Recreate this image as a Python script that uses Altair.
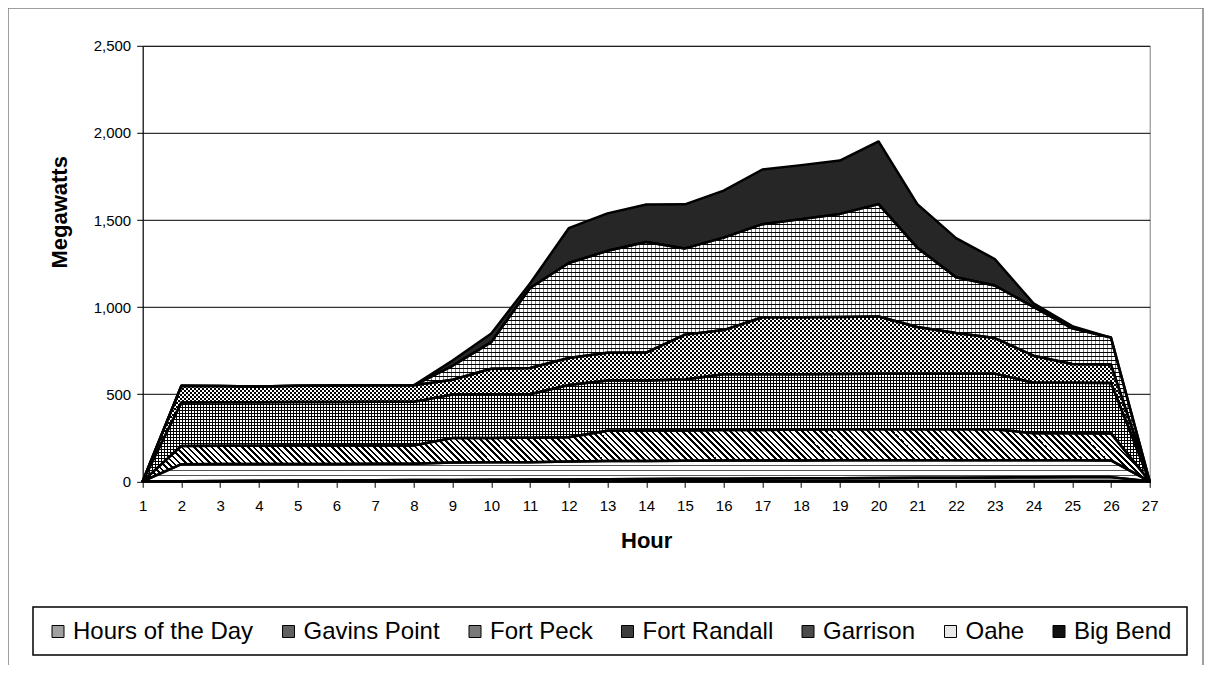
import altair as alt
import pandas as pd

hours = [1, 2, 3, 4, 5, 6, 7, 8, 9, 10, 11, 12, 13, 14, 15, 16, 17, 18, 19, 20, 21, 22, 23, 24, 25, 26, 27]
y_ticks = [0, 500, 1000, 1500, 2000, 2500]

series_names = ["Hours of the Day", "Gavins Point", "Fort Peck", "Fort Randall", "Garrison", "Oahe", "Big Bend"]

hours_of_day = [0, 1, 2, 3, 4, 5, 6, 7, 8, 9, 10, 11, 12, 13, 14, 15, 16, 17, 18, 19, 20, 21, 22, 23, 24, 24, 0]
gavins_point = [0, 97, 97, 96, 96, 95, 95, 94, 100, 100, 100, 102, 104, 104, 104, 104, 104, 103, 103, 102, 101, 100, 99, 98, 97, 96, 0]
fort_peck = [0, 105, 105, 105, 105, 105, 105, 105, 140, 140, 140, 140, 174, 174, 174, 175, 175, 177, 178, 178, 178, 178, 178, 155, 155, 155, 0]
fort_randall = [0, 250, 250, 250, 250, 250, 250, 250, 250, 250, 250, 300, 288, 288, 293, 320, 320, 318, 317, 319, 319, 319, 319, 290, 290, 290, 0]
garrison = [0, 95, 93, 90, 93, 95, 95, 95, 85, 147, 150, 155, 160, 160, 257, 254, 327, 327, 327, 328, 268, 233, 204, 155, 107, 105, 0]
oahe = [0, 0, 0, 0, 0, 0, 0, 0, 80, 153, 460, 545, 585, 635, 495, 531, 534, 563, 592, 645, 455, 320, 302, 280, 205, 155, 0]
big_bend = [0, 0, 0, 0, 0, 0, 0, 0, 30, 50, 25, 200, 215, 215, 253, 270, 314, 310, 306, 360, 250, 225, 152, 20, 13, 0, 0]

# legend swatch tones (approximating the hatch icons)
legend_fills = ["#a0a0a0", "#606060", "#7a7a7a", "#3c3c3c", "#4a4a4a", "#e8e8e8", "#111111"]
solid_fills = {"Hours of the Day": "#9a9a9a", "Big Bend": "#262626"}

all_values = [hours_of_day, gavins_point, fort_peck, fort_randall, garrison, oahe, big_bend]
rows = []
for i, (name, vals) in enumerate(zip(series_names, all_values)):
    for h, v in zip(hours, vals):
        rows.append({"hour": h, "series": name, "idx": i, "mw": v})
df = pd.DataFrame(rows)

FONT = "Liberation Sans"
W, H = 1007, 435.5
PL, PT = 134.7, 37.8
PR = 1196 - PL - W
PB = 657 - PT - H
PX_PER_MW = H / 2500.0

# pixel height of each series' bounding box (used only to size the hatch spacing)
bbox_h = {}
running = [0] * len(hours)
for name, vals in zip(series_names, all_values):
    running = [a + b for a, b in zip(running, vals)]
    bbox_h[name] = max(running) * PX_PER_MW

CLEAR = "rgba(0,0,0,0)"


def hatch(span, period, width, color, x1, y1, x2, y2):
    stops = []
    k = 0
    while True:
        s = k * period / span
        if s >= 1:
            break
        e = min((k * period + width) / span, 1.0)
        stops += [(s, CLEAR), (s, color), (e, color), (e, CLEAR)]
        k += 1
    return alt.LinearGradient(
        gradient="linear",
        stops=[alt.GradientStop(offset=round(o, 6), color=c) for o, c in stops],
        x1=x1, y1=y1, x2=x2, y2=y2,
    )


def vertical(name, period, width, color):
    return hatch(W, period, width, color, 0, 0, 1, 0)


def horizontal(name, period, width, color):
    return hatch(bbox_h[name], period, width, color, 0, 0, 0, 1)


def back_diag(name, period, width, color):
    # stripes running top-left to bottom-right
    h = bbox_h[name]
    a = (W + h) / (W * W + h * h)
    return hatch(W + h, period, width, color, 0, 1, a * W, 1 - a * h)


def fwd_diag(name, period, width, color):
    # stripes running bottom-left to top-right
    h = bbox_h[name]
    a = (W + h) / (W * W + h * h)
    return hatch(W + h, period, width, color, 0, 0, a * W, a * h)


hatches = [
    ("Gavins Point", horizontal("Gavins Point", 5, 1, "#555555")),
    ("Fort Peck", back_diag("Fort Peck", 6, 2.6, "#000000")),
    ("Fort Randall", vertical("Fort Randall", 3, 1, "#000000")),
    ("Fort Randall", horizontal("Fort Randall", 3, 1, "#000000")),
    ("Garrison", back_diag("Garrison", 4, 1.3, "#000000")),
    ("Garrison", fwd_diag("Garrison", 4, 1.3, "#000000")),
    ("Oahe", vertical("Oahe", 4, 1, "#7a7a7a")),
    ("Oahe", horizontal("Oahe", 4, 1, "#000000")),
]

x_enc = alt.X("hour:Q",
              scale=alt.Scale(domain=[1, 27], nice=False, zero=False),
              axis=alt.Axis(values=hours, title="Hour", labelFontSize=15, titleFontSize=22,
                            titleFontWeight="bold", tickSize=6, labelPadding=11, titlePadding=17,
                            grid=False, labelFlush=False))
y_enc = alt.Y("y1:Q",
              scale=alt.Scale(domain=[0, 2500], nice=False),
              axis=alt.Axis(values=y_ticks, format=",.0f", title="Megawatts", labelFontSize=15,
                            titleFontSize=22, titleFontWeight="bold", tickSize=6, labelPadding=6,
                            titlePadding=22, titleY=166, grid=True))

stacked = alt.Chart(df).transform_stack(
    stack="mw", as_=["y0", "y1"], groupby=["hour"], sort=[alt.SortField("idx", order="ascending")]
)

base_layer = stacked.mark_area(interpolate="linear", fill="white", strokeWidth=0).encode(
    x=x_enc, y=y_enc, y2="y0:Q", detail="series:N"
)

solid_layers = []
for name, col in solid_fills.items():
    solid_layers.append(
        stacked.transform_filter(alt.datum.series == name).mark_area(
            interpolate="linear", fill=col, strokeWidth=0
        ).encode(x=x_enc, y=y_enc, y2="y0:Q")
    )

hatch_layers = []
for name, grad in hatches:
    hatch_layers.append(
        stacked.transform_filter(alt.datum.series == name).mark_area(
            interpolate="linear", fill=grad, strokeWidth=0
        ).encode(x=x_enc, y=y_enc, y2="y0:Q")
    )

outline_layer = stacked.mark_area(
    interpolate="linear", fill="white", fillOpacity=0, stroke="black", strokeWidth=2.5, strokeJoin="round"
).encode(x=x_enc, y=y_enc, y2="y0:Q", detail="series:N")

legend_layer = stacked.mark_square(size=0, filled=True, strokeWidth=0, opacity=1).encode(
    x=x_enc, y=y_enc,
    color=alt.Color("series:N",
                    scale=alt.Scale(domain=series_names, range=legend_fills),
                    legend=alt.Legend(title=None, orient="none", direction="horizontal", columns=7,
                                      legendX=-96.7, legendY=573.7, padding=0, labelLimit=600,
                                      symbolType="square", symbolSize=144, symbolStrokeColor="black",
                                      symbolStrokeWidth=1, symbolOpacity=1, labelFont=FONT,
                                      labelFontSize=24, labelColor="black", labelOffset=3,
                                      columnPadding=22.5)),
)

box_df = pd.DataFrame({"k": [0]})
legend_box = alt.Chart(box_df).mark_rect(fill=None, stroke="black", strokeWidth=1.5).encode(
    x=alt.value(-109.7), x2=alt.value(1044.3), y=alt.value(561.2), y2=alt.value(609.2)
)
outer_frame = alt.Chart(box_df).mark_rect(fill=None, stroke="#808080", strokeWidth=1.5).encode(
    x=alt.value(-134.7), x2=alt.value(1060.3), y=alt.value(-37.8), y2=alt.value(640)
)

chart = alt.layer(base_layer, *solid_layers, *hatch_layers, outline_layer, legend_layer,
                  legend_box, outer_frame).properties(
    width=W, height=H,
    autosize=alt.AutoSizeParams(type="none"),
    padding={"left": PL, "top": PT, "right": PR, "bottom": PB},
    background="white",
).configure_view(stroke="#808080", strokeWidth=1).configure_axis(
    labelFont=FONT, titleFont=FONT, domainColor="black", tickColor="black",
    gridColor="black", gridWidth=1, labelColor="black", titleColor="black", domainWidth=1
)

chart.save("out.html", embed_options={"renderer": "svg", "actions": False})
